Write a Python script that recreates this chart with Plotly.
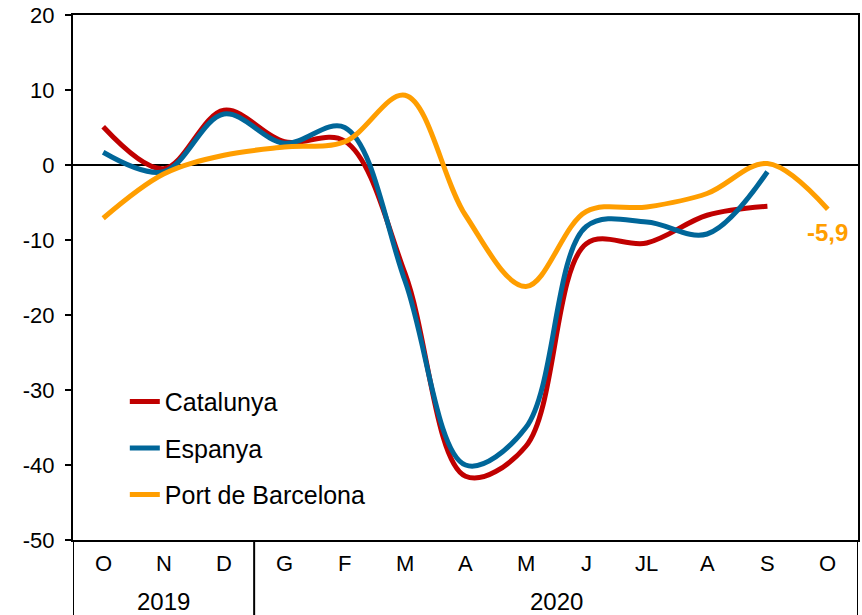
import plotly.graph_objects as go

months = ["O", "N", "D", "G", "F", "M", "A", "M", "J", "JL", "A", "S", "O"]
years = ["2019", "2020"]
year_centers = [1, 7.5]
y_ticks = [-50, -40, -30, -20, -10, 0, 10, 20]
y_tick_text = ["-50", "-40", "-30", "-20", "-10", "0", "10", "20"]
catalunya = [5.1, -0.5, 7.3, 3.1, 3.2, -14.5, -41.5, -37.5, -10.5, -10.4, -6.7, -5.5]
espanya = [1.7, -0.9, 6.8, 2.9, 5.0, -15.5, -40.0, -35.0, -8.2, -7.6, -9.2, -0.9]
port = [-7.1, -1.2, 1.3, 2.4, 3.1, 9.3, -6.7, -16.2, -6.2, -5.6, -3.8, 0.2, -5.9]
last_label = "-5,9"

FONT = "Arial, Liberation Sans, sans-serif"
x_idx = list(range(len(months)))

fig = go.Figure()
series = [("Catalunya", catalunya, "#C00000"),
          ("Espanya", espanya, "#006699"),
          ("Port de Barcelona", port, "#FF9E00")]
for name, vals, col in series:
    fig.add_trace(go.Scatter(
        x=x_idx[:len(vals)], y=vals, name=name, mode="lines",
        line=dict(color=col, width=5, shape="spline", smoothing=1.0),
        legendgroup=name,
    ))

fig.add_annotation(x=x_idx[len(port) - 1], y=port[-1], text="<b>" + last_label + "</b>",
                   showarrow=False, yshift=-23, xshift=0, yanchor="middle",
                   font=dict(family=FONT, size=24, color="#FF9E00"))

# month labels
for i, m in enumerate(months):
    fig.add_annotation(x=i, y=-23 / 525, xref="x", yref="paper", text=m, showarrow=False,
                       font=dict(family=FONT, size=22, color="black"), yanchor="middle")
for yv, xc in zip(years, year_centers):
    fig.add_annotation(x=xc, y=-61 / 525, xref="x", yref="paper", text=yv, showarrow=False,
                       font=dict(family=FONT, size=24, color="black"), yanchor="middle")

low = -80 / 525
for xv in [-0.5, 2.5, 12.5]:
    fig.add_shape(type="line", xref="x", yref="paper", x0=xv, x1=xv, y0=low, y1=0,
                  line=dict(color="black", width=2))

fig.update_layout(
    width=862, height=615,
    margin=dict(l=73, r=4, t=15, b=75, autoexpand=False),
    paper_bgcolor="white", plot_bgcolor="white",
    font=dict(family=FONT, size=22, color="black"),
    showlegend=True,
    legend=dict(x=0.066, y=0.307, xanchor="left", yanchor="top",
                font=dict(family=FONT, size=25, color="black"),
                bgcolor="rgba(0,0,0,0)", tracegroupgap=11),
)
fig.update_xaxes(range=[-0.5, 12.5], showticklabels=False, showgrid=False, zeroline=False,
                 showline=True, linecolor="black", linewidth=2, mirror=True, ticks="",
                 automargin=False)
fig.update_yaxes(range=[-50, 20], tickvals=y_ticks, ticktext=y_tick_text, showgrid=False,
                 zeroline=True, zerolinecolor="black", zerolinewidth=2,
                 showline=True, linecolor="black", linewidth=2, mirror=True,
                 ticks="outside", ticklen=6, tickwidth=2, tickcolor="black",
                 ticklabelstandoff=6,
                 tickfont=dict(family=FONT, size=22, color="black"), automargin=False)

fig.write_html("out.html", config={"displayModeBar": False},
               post_script="document.body.style.margin='0';")
